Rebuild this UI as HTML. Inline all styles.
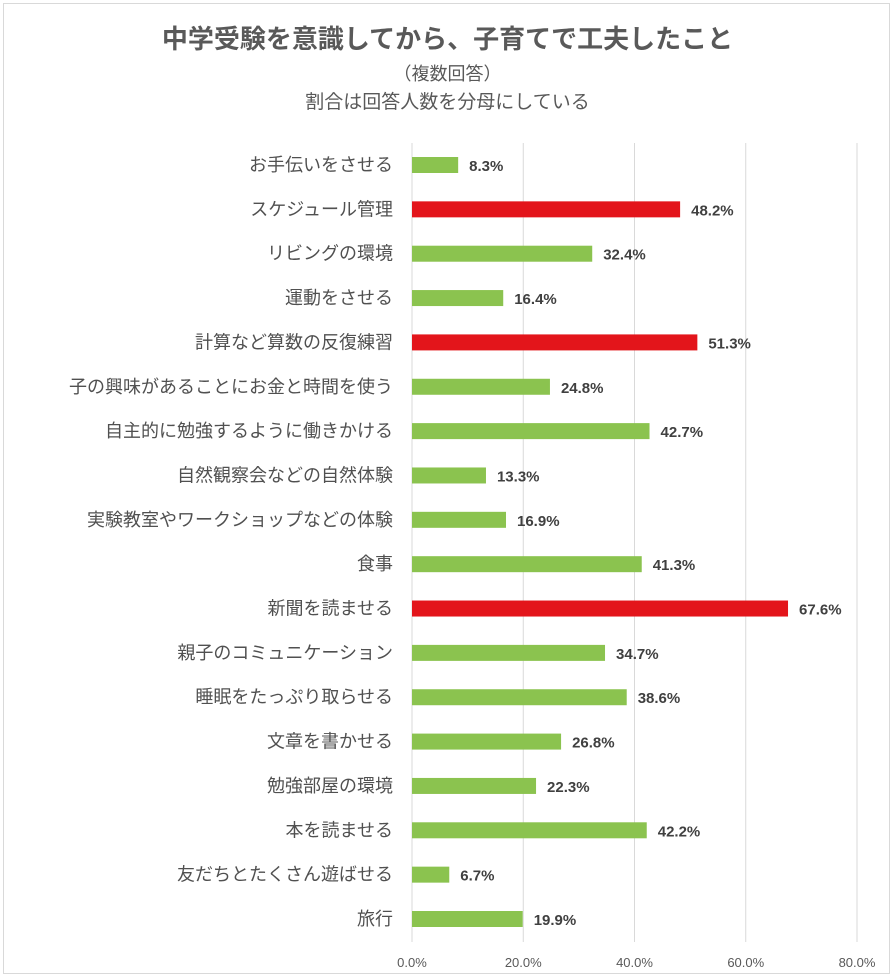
<!DOCTYPE html>
<html><head><meta charset="utf-8"><style>
html,body{margin:0;padding:0;background:#fff;}
body{width:895px;height:980px;position:relative;overflow:hidden;font-family:"Liberation Sans","Noto Sans CJK JP",sans-serif;}
#frame{position:absolute;left:3px;top:3px;width:887px;height:971px;border:1px solid #d9d9d9;box-sizing:border-box;}
.t{position:absolute;left:0;width:895px;text-align:center;color:#595959;}
</style></head><body>
<div id="frame"></div>
<div class="t" style="top:19px;font-size:26px;font-weight:bold;">中学受験を意識してから、子育てで工夫したこと</div>
<div class="t" style="top:60px;font-size:18px;">（複数回答）</div>
<div class="t" style="top:87px;font-size:19px;">割合は回答人数を分母にしている</div>
<svg id="chart" width="895" height="980" style="position:absolute;left:0;top:0"></svg>
<script>
const categories=["お手伝いをさせる","スケジュール管理","リビングの環境","運動をさせる","計算など算数の反復練習","子の興味があることにお金と時間を使う","自主的に勉強するように働きかける","自然観察会などの自然体験","実験教室やワークショップなどの体験","食事","新聞を読ませる","親子のコミュニケーション","睡眠をたっぷり取らせる","文章を書かせる","勉強部屋の環境","本を読ませる","友だちとたくさん遊ばせる","旅行"];
const values=[8.3,48.2,32.4,16.4,51.3,24.8,42.7,13.3,16.9,41.3,67.6,34.7,38.6,26.8,22.3,42.2,6.7,19.9];
const highlighted=[false,true,false,false,true,false,false,false,false,false,true,false,false,false,false,false,false,false];
const ticks=[0,20,40,60,80];
const tickLabels=["0.0%","20.0%","40.0%","60.0%","80.0%"];
const NS="http://www.w3.org/2000/svg";
const svg=document.getElementById('chart');
const x0=412,x1=857,yTop=143,yBot=942;
const xs=v=>x0+(x1-x0)*v/80;
const yc=i=>165+i*(919-165)/(categories.length-1);
function mk(t,a){const e=document.createElementNS(NS,t);for(const k in a)e.setAttribute(k,a[k]);svg.appendChild(e);return e;}
ticks.forEach((t,i)=>{
  const g=mk('line',{x1:xs(t),x2:xs(t),y1:yTop,y2:yBot,stroke:'#d9d9d9','stroke-width':1});
  
  
  const tx=mk('text',{x:xs(t),y:967,'text-anchor':'middle','font-size':13,fill:'#595959'});
  tx.textContent=tickLabels[i];
  
  
});
categories.forEach((c,i)=>{
  const y=yc(i);
  const lb=mk('text',{x:393,y:y+6,'text-anchor':'end','font-size':18,fill:'#505050'});
  lb.textContent=c;
  
  
  const r=mk('rect',{x:x0,y:y-8,width:xs(values[i])-x0,height:16,fill:highlighted[i]?'#e3151b':'#8bc34f'});
  
  
  const v=mk('text',{x:xs(values[i])+11,y:y+6,'font-size':15,'font-weight':'bold',fill:'#404040'});
  v.textContent=values[i].toFixed(1)+'%';
  
  
});
</script>
</body></html>
